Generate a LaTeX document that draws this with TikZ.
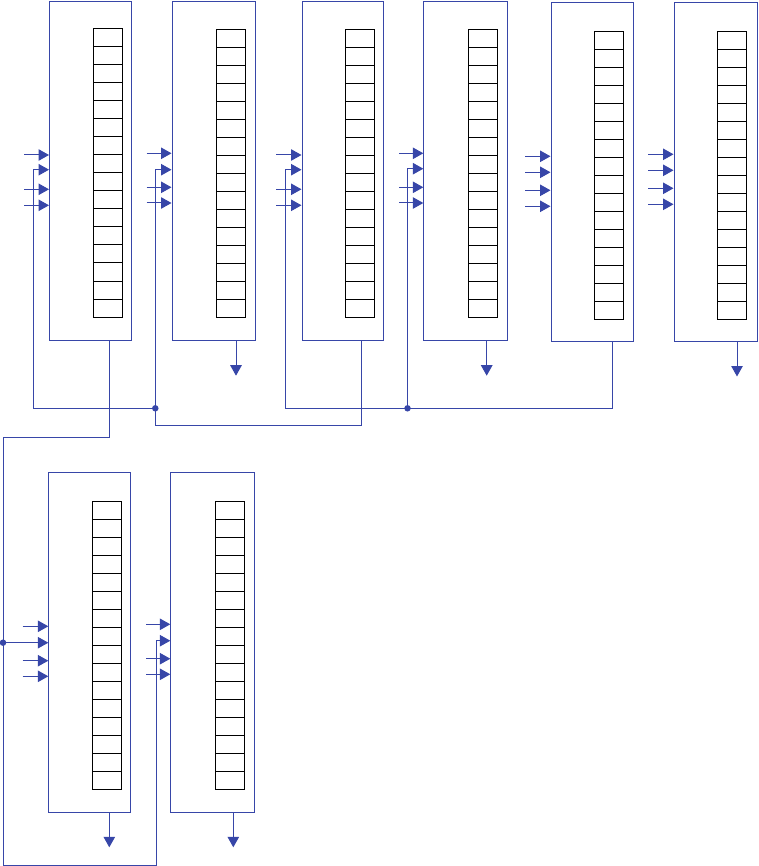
\documentclass[tikz,border=0pt]{standalone}
\usetikzlibrary{arrows.meta}
\definecolor{lineblue}{RGB}{55,70,168}
\begin{document}
\begin{tikzpicture}[x=1pt,y=-1pt,
  regbox/.style={draw=lineblue, line width=1pt, rectangle, inner sep=0pt, anchor=north west},
  conn/.style={draw=lineblue, line width=1pt},
  inarr/.style={conn, -{Triangle[length=10.5pt,width=11.5pt]}},
  cellline/.style={draw=black, line width=1pt},
  jdot/.style={circle, fill=lineblue, inner sep=0pt, minimum size=6.5pt}]
\useasboundingbox (0,0) rectangle (758,866);
% boxes and their register grids
\foreach \n/\l/\t/\r/\b/\gx/\gy in {
  b1/49/1/131/340/93/29,
  b2/171.5/1/255.3/340/216.5/29.3,
  b3/301.5/1/383.2/340/345.7/29.3,
  b4/423.3/1/507.3/340/468.5/29.3,
  b5/550.5/1.7/633.3/341.3/594.5/31.5,
  b6/673.5/1.7/757/341.3/717.3/31.5,
  b7/48.3/471.7/130.3/812.3/92.3/501.3,
  b8/170.3/471.7/254.3/812.3/215.3/501.3}{
  \node[regbox, minimum width={\r-\l}, minimum height={\b-\t}] (\n) at (\l,\t) {};
  \foreach \k in {0,...,15}
    \draw[cellline] (\gx,{\gy+18*\k}) rectangle ++(29,18);
}
% free input arrows
\foreach \n/\sx/\ya/\yc/\yd in {
  b1/24/155/189.3/205.3,
  b2/146.7/153.3/187.3/203,
  b3/276/155/189.3/205.3,
  b4/399/153.3/187.3/203,
  b7/22.7/626.3/660.7/676.3,
  b8/146/624.3/658.7/674.3}{
  \draw[inarr] (\sx,\ya) -- (\n.west |- 0,\ya);
  \draw[inarr] (\sx,\yc) -- (\n.west |- 0,\yc);
  \draw[inarr] (\sx,\yd) -- (\n.west |- 0,\yd);
}
\foreach \n/\sx/\ya/\yb/\yc/\yd in {
  b5/525/156.3/172.3/190.3/206.3,
  b6/648/154.3/170.3/188.3/204.3}{
  \draw[inarr] (\sx,\ya) -- (\n.west |- 0,\ya);
  \draw[inarr] (\sx,\yb) -- (\n.west |- 0,\yb);
  \draw[inarr] (\sx,\yc) -- (\n.west |- 0,\yc);
  \draw[inarr] (\sx,\yd) -- (\n.west |- 0,\yd);
}
% output arrows
\draw[inarr] (b2.south -| 236,0) -- (236,375.7);
\draw[inarr] (b4.south -| 486.7,0) -- (486.7,375.7);
\draw[inarr] (b6.south -| 737,0) -- (737,376.5);
\draw[inarr] (b7.south -| 109.3,0) -- (109.3,847.3);
\draw[inarr] (b8.south -| 233.3,0) -- (233.3,847.3);
% junctions
\node[jdot] (j1) at (155.3,408.3) {};
\node[jdot] (j2) at (407.5,408.3) {};
\node[jdot] (j3) at (3,642.7) {};
% feedback connectors
\draw[inarr] (b3.south -| 361.3,0) -- (361.3,425.3) -- (155.3,425.3) -- (155.3,169.7) -- (b2.west |- 0,169.7);
\draw[inarr] (j1.center) -- (33.3,408.3) |- (b1.west |- 0,169.7);
\draw[inarr] (b5.south -| 612.3,0) -- (612.3,408.3) -- (285.3,408.3) |- (b3.west |- 0,169.7);
\draw[inarr] (j2.center) |- (b4.west |- 0,168.7);
\draw[inarr] (b1.south -| 109.3,0) -- (109.3,437.3) -- (3,437.3) -- (3,865) -- (156.7,865) |- (b8.west |- 0,640.7);
\draw[inarr] (j3.center) -- (b7.west |- j3.center);
\end{tikzpicture}
\end{document}
